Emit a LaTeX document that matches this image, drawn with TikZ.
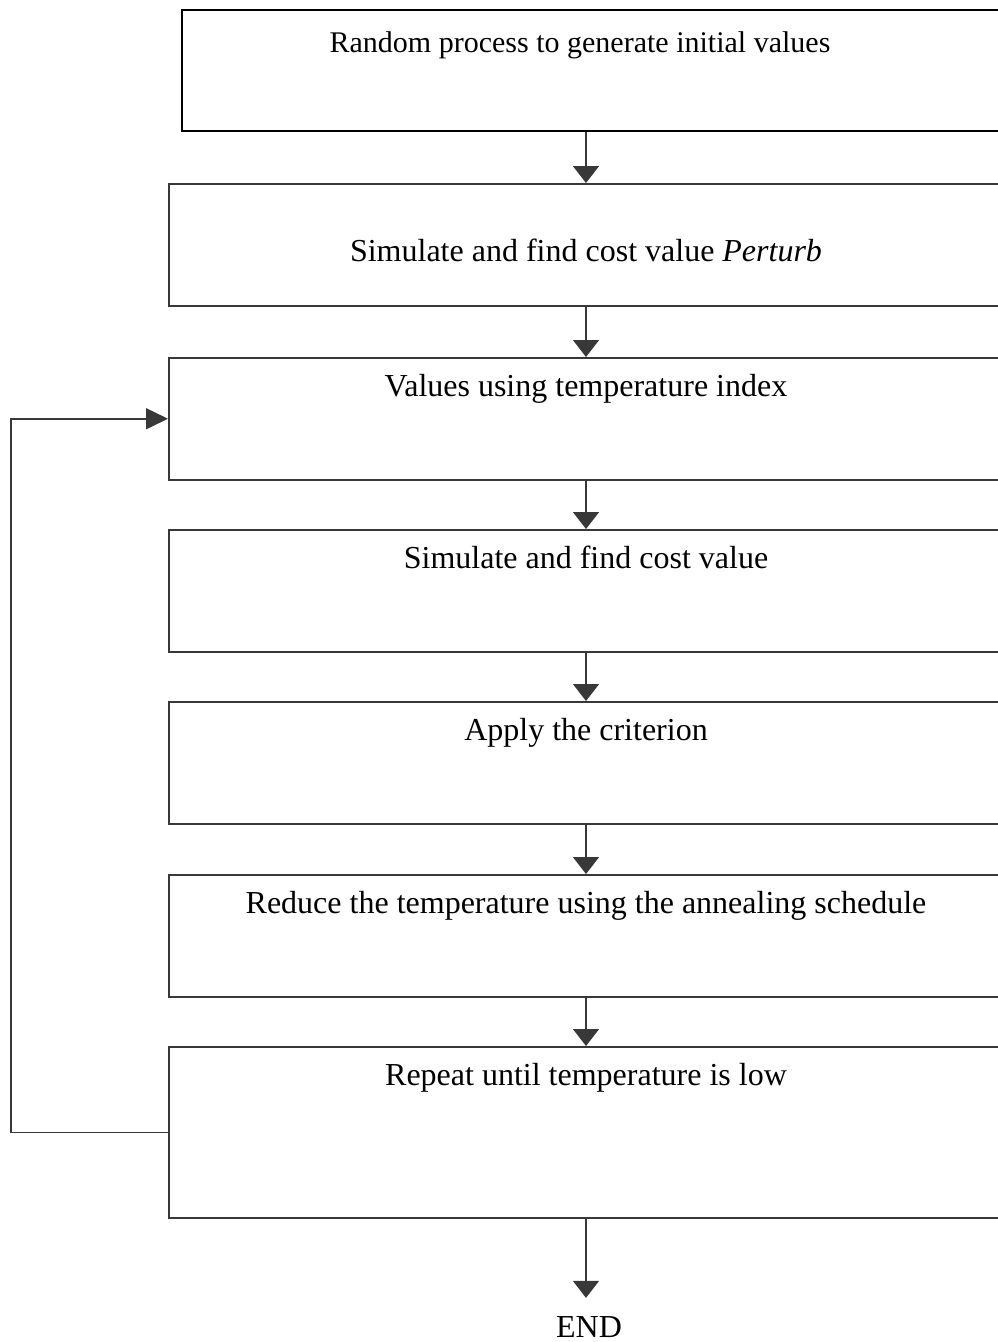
\documentclass[tikz,border=0pt]{standalone}
\usepackage{fontspec}
\setmainfont{Liberation Serif}
\usetikzlibrary{arrows.meta}

\begin{document}
\begin{tikzpicture}[x=1pt,y=-1pt,
        stagebox/.style={draw=black!78,line width=1.5pt,anchor=north west,
            minimum width=850pt,minimum height=122pt,inner sep=0pt},
        steptext/.style={anchor=base,inner sep=0pt,font=\fontsize{32}{38}\selectfont},
        flow/.style={draw=black!78,line width=1.5pt,-{Triangle[width=26pt,length=17pt]}},
        back/.style={draw=black!78,line width=1.5pt,-{Triangle[width=21pt,length=22pt]}}]
        \useasboundingbox (0,0) rectangle (998,1342);
        \clip (0,0) rectangle (998,1342);

        % Boxes (their right sides run off the page)
        \node[stagebox,draw=black,line width=2pt,minimum height=121pt] (b1) at (181,9) {};
        \node[stagebox] (b2) at (168,183) {};
        \node[stagebox] (b3) at (168,357) {};
        \node[stagebox] (b4) at (168,529) {};
        \node[stagebox] (b5) at (168,701) {};
        \node[stagebox] (b6) at (168,874) {};
        \node[stagebox,minimum height=171pt] (b7) at (168,1046) {};

        % Texts
        \node[steptext,font=\fontsize{30}{36}\selectfont] (t1) at (580,52) {Random process to generate initial values};
        \node[steptext] (t2) at (586,261) {Simulate and find cost value \textit{Perturb}};
        \node[steptext] (t3) at (586,396) {Values using temperature index};
        \node[steptext] (t4) at (586,568) {Simulate and find cost value};
        \node[steptext] (t5) at (586,740) {Apply the criterion};
        \node[steptext] (t6) at (586,913) {Reduce the temperature using the annealing schedule};
        \node[steptext] (t7) at (586,1085) {Repeat until temperature is low};
        \node[steptext] (done) at (589,1337) {END};

        % Arrows down the chain
        \coordinate (axis) at (586,0);
        \foreach \a/\b in {b1/b2,b2/b3,b3/b4,b4/b5,b5/b6,b6/b7}
            \draw[flow] (\a.south -| axis) -- (\b.north -| axis);
        \coordinate (endtip) at (axis |- done.north);
        \draw[flow,shorten >=18pt] (b7.south -| axis) -- (endtip);

        % Loop back
        \coordinate (loop) at (11,0);
        \draw[back] (b7.west) -- (b7.west -| loop) |- (b3.west);
    \end{tikzpicture}
\end{document}
